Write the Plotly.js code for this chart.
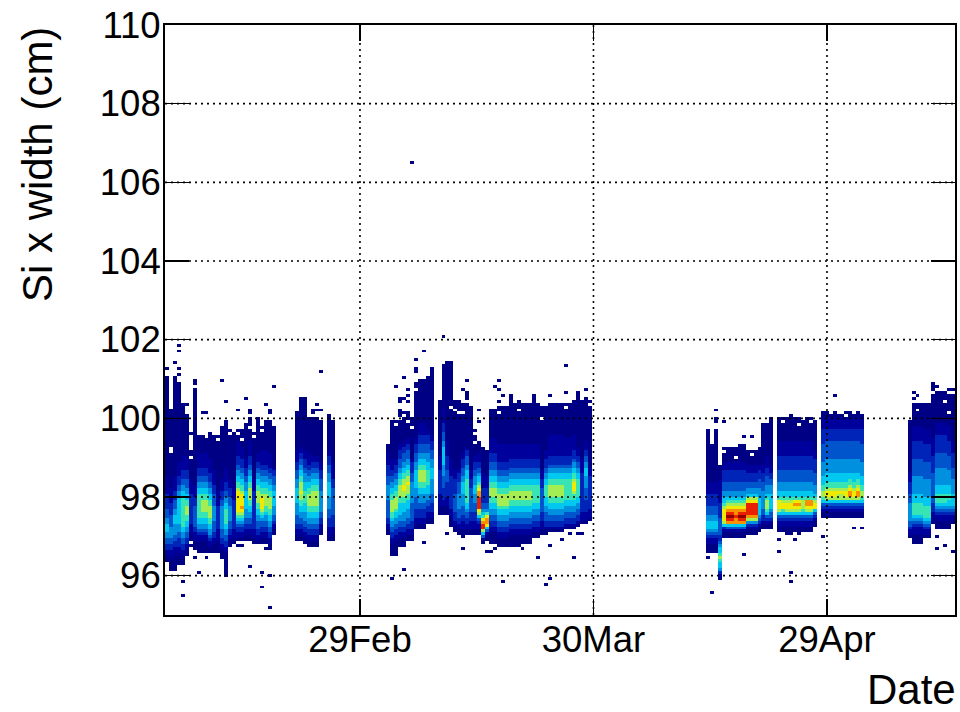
<!DOCTYPE html>
<html><head><meta charset="utf-8">
<script src="https://cdn.plot.ly/plotly-3.0.1.min.js"></script>
<style>html,body{margin:0;padding:0;background:#fff}</style></head>
<body><div id="chart" style="width:960px;height:712px"></div>
<script>
// Histogram binning
const binCount = 200;
const yStart = 95, yBin = 0.075;
const xStartMs = Date.UTC(2016,1,3,22,48), xBinDays = 0.5075;
const xTickDates = ['2016-02-29','2016-03-30','2016-04-29'];
const xTickLabels = ['29Feb','30Mar','29Apr'];
const yTicks = [96,98,100,102,104,106,108,110];

// Column runs: [first column, last column, first row, top row, colour level per row going upward (base 12)]
const runsA = [
[0,0,18,79,"00112233445554433322222111111"],
[1,1,15,69,"0000111223344443333222211111"],
[2,2,15,80,"00000111223344445554433322211111"],
[3,3,17,78,"00001122233444555555555443322211111"],
[4,4,17,70,"0001122334455666666666655443322211111"],
[5,5,20,67,"0011223344556677766554433322211111"],
[6,6,25,61,"000111222222222211111"],
[7,7,22,76,"0001112233333332221111"],
[8,8,21,60,"0000112344556666666655443322211111"],
[9,10,21,60,"0000112344556677776655443322211111"],
[11,11,21,61,"00112344556677776655443322211111"],
[12,12,21,60,"0001122333344444333322211111"],
[13,13,21,60,"000011112222222211111"],
[14,14,19,63,"000112233344444444332221111"],
[15,15,13,65,"0000000011223344556666655443322211111"],
[16,16,23,62,"00112233344444333222111"],
[17,17,24,61,"0011122222222221111"],
[18,18,25,62,"0112234567888888876655443322211111"],
[19,19,25,62,"01122345678988887665544332221111"],
[20,20,25,64,"0011223344455555544433222111"],
[21,21,25,66,"0011223344556677776655443322211111"],
[22,22,24,61,"0011122222222222221111"],
[23,23,24,66,"0112233344556677776655443322111"],
[24,24,24,63,"00112233456788887665544332211111"],
[25,25,24,65,"00112233445667777665544332211111"],
[26,26,22,65,"001122334455667777665544332211111"],
[27,27,27,63,"00112334445555544333221"],
[33,33,25,68,"0011223334444555554443332221111"],
[34,34,25,73,"00112233445566778777665544332211"],
[35,35,24,73,"00112233444555666655544433222111"],
[36,36,23,66,"00112233445566777766554433221111"],
[37,38,23,66,"0011223344556677777665544332211"],
[39,39,27,65,"0011223344444443333222111"],
[41,41,25,67,"0011122233344445555544433322211"],
[42,42,25,65,"001112222333333333222111111"]];
const runsB = [
[56,56,27,57,"0011223333334444433322221111"],
[57,57,20,65,"000011223344566777766554433221111"],
[58,58,20,65,"000001122334455677776655443322211"],
[59,59,23,68,"00011223344555566777766554433322211"],
[60,60,23,68,"000112233444555667788776655443332211"],
[61,61,25,68,"00112233444555667778776655443332211"],
[62,62,25,66,"0011222333333444444433322221"],
[63,63,29,78,"0011222333344455555544433322211"],
[64,65,29,79,"001122233444556677776655443332221111"],
[66,66,31,80,"00112233445556666655544433322211"],
[67,67,31,82,"001122233344444555544433322211"],
[69,69,34,72,"00011112222222211111"],
[70,70,34,84,"000112222333344445555554433322211111"],
[71,71,34,85,"0001112222233332222211111"],
[72,72,30,84,"00011122222222222111111"],
[73,73,28,72,"001122233333322222111"],
[74,74,27,72,"00112233344444333322211"],
[75,75,27,71,"0011122333444455554433322211"],
[76,76,27,71,"001122334556666666655544333221"],
[77,77,27,70,"0011122233333333222111"],
[78,78,27,62,"001112223334445554443322211"],
[79,79,27,58,"001123578aaaa998765543322111"],
[80,80,24,56,"00357aa98654332222211111"],
[81,81,25,55,"0013589986433222221111"],
[82,83,24,69,"000011223344556677766554433322211111"],
[84,86,23,70,"00011223344556777766554433222111111"],
[87,89,23,71,"00001122334455667776655443322211111"],
[90,92,24,71,"0001122334455667776655443322211111"],
[93,94,26,71,"00112233445566666655443322211111"],
[95,95,27,70,"0011122233333333222111"],
[96,96,27,70,"00122333445556666554433222111"],
[97,100,28,71,"012233445566777766554432221111111"],
[101,102,29,71,"0122334455666666655443222111111"],
[103,103,29,72,"01223344556678887665544322211111"],
[104,104,30,73,"012233445566666655443322111"],
[105,105,31,72,"0111222222222222211111"],
[106,106,31,73,"0111222233334444555443322111"],
[107,107,32,72,"011122222222222111"]];
const runsC = [
[137,137,21,62,"000112345554433322221111"],
[138,138,21,58,"000112345554433322221111"],
[139,139,21,62,"000112345554433322221111"],
[140,140,12,50,"0124556765543223333332222211111111"],
[141,141,26,56,"00125788887655443332222111"],
[142,143,26,56,"001359aba98765443332222111"],
[144,144,26,56,"0013599a998765443332222111"],
[145,146,26,56,"001359aba98765443332222111"],
[147,149,27,55,"0012479aaaa875443322 2111"],
[150,150,28,56,"00123455555544433322211"],
[151,151,29,64,"0012233444444333222111"],
[152,152,29,64,"0012356777654443332221111"],
[153,153,29,64,"0012334555554443322111"],
[155,155,28,66,"0011235788865544433332222211111"],
[156,156,28,66,"0011235688765544433332222211111"],
[157,158,27,66,"00011235788765544433332222211111"],
[159,160,28,66,"0011235789865544433332222211111"],
[161,161,28,65,"0011235677765544433332222211111"],
[162,163,28,66,"0011235789965544433332222211111"],
[164,164,30,65,"00123588765444333322222111"],
[166,166,33,68,"0012356776655544444333333222221111"],
[167,169,33,68,"0012357887665554444433333322221111"],
[170,171,33,67,"0012357787665554444433333322221111"],
[172,172,33,68,"0012357887665554444433333322221111"],
[173,173,33,68,"0012357998766554444433333322221111"],
[174,174,33,67,"0012357887665554444433333322221111"],
[175,175,33,68,"0012357998766554444433333322221111"],
[176,176,33,67,"0012356776655544444333333222221111"],
[188,188,26,65,"0112334444443332222111"],
[189,191,24,71,"0001112345666655544444433333322222211111"],
[192,193,26,71,"0112345666655544444433333322222211111"],
[194,194,31,74,"00112223333333333222222111111"],
[195,197,29,75,"000112345666555444444333332222221111"],
[198,198,29,73,"00011234556655544444333332222211111"],
[199,199,31,74,"0112345555444443333222221111"]];
const runs = runsA.concat(runsB, runsC);

// Isolated single cells above and below the bands
const strayCol = [3,3,2,3,0,3,0,2,7,7,14,15,20,27,39,34,35,18,25,21,21,26,26,38,37,37,38,39,4,5,4,9,10,
  8,7,10,21,24,26,24,26,4,4,18,19,25,6,
  70,65,63,63,63,67,60,58,61,61,59,60,59,61,59,76,84,83,84,75,76,76,76,85,87,87,87,93,93,93,97,101,101,104,104,104,106,89,84,74,79,79,78,
  60,57,85,97,96,94,103,97,100,75,65,90,81,82,83,71,75,102,104,105,62,71,72,
  139,139,139,141,146,148,145,146,153,153,158,138,137,146,155,155,159,160,158,158,166,174,176,169,166,188,195,195,197,199,
  189,190,189,194,194,194,195,197,198,198,198,199];
const strayRow = [91,89,85,83,83,81,80,80,79,78,79,72,73,77,82,73,73,69,71,69,68,69,68,71,68,69,69,69,71,71,68,68,68,
  14,19,19,16,14,13,9,2,11,6,23,23,22,23,
  94,89,86,83,82,83,80,77,76,74,73,73,72,72,69,79,79,77,76,76,75,74,73,74,74,73,72,74,73,72,74,75,84,75,74,73,76,72,72,72,69,65,62,
  15,12,11,12,10,19,19,23,25,22,24,22,21,21,22,27,26,27,27,27,153,85,85,
  69,66,65,65,60,60,57,57,66,65,67,7,19,20,25,21,25,27,14,11,26,29,29,74,68,26,26,22,23,21,
  75,74,73,78,77,76,77,74,76,74,72,76];

// White cells inside the jagged tops of the bands
const holeCol = [1,1,6,6,6,6,6,6,10,13,16,18,19,21,22,24,58,59,60,61,62,63,72,73,74,75,78,78,84,89,95,101,107,138,138,141,144,148,156,160,163,168,172,190,197,198];
const holeRow = [56,55,60,59,58,57,56,53,60,59,61,61,59,63,60,62,64,66,67,65,63,76,70,69,68,68,61,58,68,69,66,70,71,60,58,55,53,54,65,64,65,68,67,69,72,68];

// ---- build the matrix and colour scale ----
const levelColors = ['#000084','#00009c','#0024b8','#0054cc','#0090e0','#00c8ee','#38e4b4','#a4ee54','#f0ea00','#f89000','#e82000','#900000'];
const xs = Array.from({length:binCount},(_,c)=>xStartMs+(c+0.5)*xBinDays*86400000);
const ys = Array.from({length:binCount},(_,j)=>yStart+(j+0.5)*yBin);
const z = ys.map(()=>xs.map(()=>null));
runs.forEach(([c0,c1,j0,jTop,prof])=>{
  const p = prof.replace(/ /g,'');
  for(let c=c0;c<=c1;c++){
    for(let j=j0;j<=jTop;j++){
      const ch = p[j-j0];
      z[j][c] = ch===undefined ? 0 : parseInt(ch,12);
    }
  }
});
strayCol.forEach((c,i)=>{ if(z[strayRow[i]][c]===null) z[strayRow[i]][c]=0; });
holeCol.forEach((c,i)=>{ z[holeRow[i]][c]=null; });

const gridStyle = {color:'#000',width:1.6,dash:'2px,4px'};
const shapes = [];
yTicks.slice(0,-1).forEach(v=>shapes.push({type:'line',xref:'paper',yref:'y',x0:0,x1:1,y0:v,y1:v,line:gridStyle,layer:'above'}));
xTickDates.forEach(v=>shapes.push({type:'line',xref:'x',yref:'paper',x0:v,x1:v,y0:0,y1:1,line:gridStyle,layer:'above'}));

const font = 'Helvetica, "Liberation Sans", Arial, sans-serif';
Plotly.newPlot('chart',[{
  type:'heatmap',x:xs,y:ys,z:z,zmin:0,zmax:11,zsmooth:false,showscale:false,hoverongaps:false,
  colorscale:levelColors.map((col,i)=>[i/11,col])
}],{
  width:960,height:712,autosize:false,paper_bgcolor:'#fff',plot_bgcolor:'#fff',
  margin:{l:165,r:5,t:25,b:97,pad:0},
  font:{family:font,color:'#000'},
  xaxis:{type:'date',range:['2016-02-03 22:48','2016-05-15 10:48'],tickmode:'array',tickvals:xTickDates,ticktext:xTickLabels,
    showgrid:false,zeroline:false,showline:true,linecolor:'#000',linewidth:2,mirror:'ticks',
    ticks:'inside',ticklen:16,tickwidth:1.5,tickcolor:'#000',tickfont:{size:36.5,family:font,color:'#000'},layer:'above traces',ticklabelstandoff:-9},
  yaxis:{range:[95,110],tickmode:'array',tickvals:yTicks,ticktext:yTicks.map(String),
    showgrid:false,zeroline:false,showline:true,linecolor:'#000',linewidth:2,mirror:'ticks',
    ticks:'inside',ticklen:24,tickwidth:1.5,tickcolor:'#000',tickfont:{size:36.5,family:font,color:'#000'},layer:'above traces',ticklabelstandoff:-5},
  shapes:shapes,
  annotations:[
    {text:'Date',xref:'paper',yref:'paper',x:1,y:0,xanchor:'right',yanchor:'top',yshift:-49,xshift:3,showarrow:false,font:{size:42,family:font,color:'#000'}},
    {text:'Si x width (cm)',xref:'paper',yref:'paper',x:0,y:1,xanchor:'right',yanchor:'top',xshift:-102,showarrow:false,textangle:-90,font:{size:42,family:font,color:'#000'}}
  ]
},{displayModeBar:false,staticPlot:true});
</script></body></html>
